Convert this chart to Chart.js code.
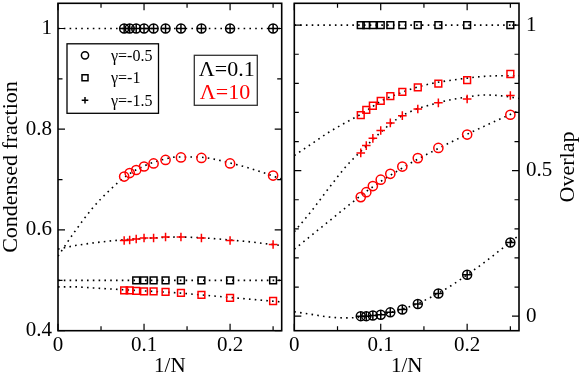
<!DOCTYPE html>
<html><head><meta charset="utf-8">
<script src="https://cdn.jsdelivr.net/npm/chart.js@4.4.1/dist/chart.umd.min.js"></script>
<style>
html,body{margin:0;padding:0;background:#fff;width:581px;height:377px;overflow:hidden;position:relative}
#wl{position:absolute;left:0;top:-3px;width:288px;height:380px}
#wr{position:absolute;left:288px;top:-3px;width:293px;height:380px}
</style></head><body>
<div id="wl"><canvas id="cl"></canvas></div>
<div id="wr"><canvas id="cr"></canvas></div>
<script>
// ---------- data (x = 1/N for N = 13 ... 4) ----------
const invN = [0.0769, 0.0833, 0.0909, 0.1, 0.1111, 0.125, 0.1429, 0.1667, 0.2, 0.25];
const invN8 = [0.0909, 0.1, 0.1111, 0.125, 0.1429, 0.1667, 0.2, 0.25];

// Left panel: condensed fraction
const cfLam01g05 = [1, 1, 1, 1, 1, 1, 1, 1, 1, 1];
const cfLam01g15 = [1, 1, 1, 1, 1, 1, 1, 1, 1, 1];
const cfLam01g1  = [0.5, 0.5, 0.5, 0.5, 0.5, 0.5, 0.5, 0.5];
const cfLam10g05 = [0.706, 0.713, 0.719, 0.726, 0.732, 0.739, 0.744, 0.743, 0.732, 0.708];
const cfLam10g1  = [0.480, 0.480, 0.479, 0.478, 0.478, 0.477, 0.475, 0.471, 0.465, 0.459];
const cfLam10g15 = [0.579, 0.580, 0.582, 0.584, 0.584, 0.586, 0.586, 0.584, 0.579, 0.571];

// Right panel: overlap
const ovLam01g1  = [1, 1, 1, 1, 1, 1, 1, 1, 1, 1];
const ovLam01g05 = [0, 0, 0.002, 0.005, 0.013, 0.023, 0.042, 0.078, 0.142, 0.253];
const ovLam01g15 = [0, 0, 0.002, 0.005, 0.013, 0.023, 0.042, 0.078, 0.142, 0.253];
const ovLam10g05 = [0.409, 0.426, 0.447, 0.469, 0.489, 0.514, 0.543, 0.578, 0.624, 0.692];
const ovLam10g1  = [0.691, 0.709, 0.723, 0.740, 0.756, 0.771, 0.786, 0.799, 0.811, 0.832];
const ovLam10g15 = [0.561, 0.586, 0.611, 0.638, 0.664, 0.689, 0.712, 0.733, 0.746, 0.758];

// Fit curves
const fitEnds = [0, 0.26];
const fitGrid = [0, 0.02, 0.04, 0.06, 0.08, 0.1, 0.12, 0.14, 0.16, 0.18, 0.2, 0.22, 0.24, 0.26];
const fitCfOne  = [1, 1];
const fitCfHalf = [0.5, 0.5];
const fitCfLam10g05 = [0.548, 0.598, 0.643, 0.679, 0.708, 0.727, 0.739, 0.745, 0.745, 0.741, 0.733, 0.724, 0.713, 0.701];
const fitCfLam10g15 = [0.562, 0.569, 0.574, 0.578, 0.581, 0.583, 0.585, 0.586, 0.585, 0.583, 0.580, 0.577, 0.573, 0.569];
const fitCfLam10g1  = [0.487, 0.487, 0.485, 0.483, 0.481, 0.479, 0.477, 0.475, 0.472, 0.469, 0.466, 0.463, 0.460, 0.457];
const fitOvOne      = [1, 1];
const fitOvLam10g1  = [0.552, 0.592, 0.632, 0.666, 0.699, 0.738, 0.764, 0.785, 0.800, 0.810, 0.818, 0.824, 0.826, 0.826];
const fitOvLam10g15 = [0.290, 0.362, 0.440, 0.515, 0.575, 0.632, 0.680, 0.710, 0.728, 0.743, 0.753, 0.760, 0.757, 0.748];
const fitOvLam10g05 = [0.230, 0.278, 0.326, 0.374, 0.421, 0.463, 0.500, 0.535, 0.566, 0.596, 0.625, 0.653, 0.680, 0.706];
const fitOvLam01    = [0.015, 0.006, -0.003, -0.006, -0.003, 0.006, 0.020, 0.040, 0.068, 0.102, 0.142, 0.185, 0.231, 0.278];

// Tick values
const xTickLabels = [0, 0.1, 0.2];
const xMinorTicks = [0.05, 0.15, 0.25];
const cfTickLabels = [0.4, 0.6, 0.8, 1];
const cfMinorTicks = [0.5, 0.7, 0.9];
const ovTickLabels = [0, 0.5, 1];
const ovMinorTicks = [0.1, 0.2, 0.3, 0.4, 0.6, 0.7, 0.8, 0.9];

// ---------- helpers ----------
const RED = '#ff0000', BLK = '#000000';
const FONT = '"Liberation Serif", "Times New Roman", serif';
Chart.defaults.font.family = FONT;
Chart.defaults.color = '#000';

const pts = (xs, ys) => xs.map((x, i) => ({x: x, y: ys[i]}));
function markers(label, xs, ys, style, color, r) {
  return {label, data: pts(xs, ys), showLine: false, pointStyle: style, pointRadius: r, pointHoverRadius: r,
    pointBorderColor: color, pointBackgroundColor: 'rgba(0,0,0,0)', pointBorderWidth: 1.5, borderColor: color, order: 0};
}
function fit(label, xs, ys) {
  return {label, data: pts(xs, ys), showLine: true, pointRadius: 0, borderColor: BLK, borderWidth: 1.6,
    borderDash: [1.6, 4.2], cubicInterpolationMode: 'monotone', fill: false, order: 1};
}

function framePlugin(yMaj, yMin, extra) {
  return {
    id: 'frame',
    afterDatasetsDraw(chart) {
      const {ctx, chartArea: a, scales: {x, y}} = chart;
      ctx.save();
      ctx.strokeStyle = BLK;
      ctx.lineWidth = 1.2;
      ctx.beginPath();
      const xt = (v, len) => { const p = x.getPixelForValue(v);
        ctx.moveTo(p, a.bottom); ctx.lineTo(p, a.bottom - len);
        ctx.moveTo(p, a.top); ctx.lineTo(p, a.top + len); };
      const yt = (v, len) => { const p = y.getPixelForValue(v);
        ctx.moveTo(a.left, p); ctx.lineTo(a.left + len, p);
        ctx.moveTo(a.right, p); ctx.lineTo(a.right - len, p); };
      xTickLabels.forEach(v => xt(v, 7));
      xMinorTicks.forEach(v => xt(v, 4.5));
      yMaj.forEach(v => yt(v, 7));
      yMin.forEach(v => yt(v, 4.5));
      ctx.stroke();
      ctx.lineWidth = 1.6;
      ctx.strokeRect(a.left, a.top, a.right - a.left, a.bottom - a.top);
      ctx.restore();
      if (extra) extra(chart);
    }
  };
}

function drawSym(ctx, style, cx, cy, r) {
  ctx.beginPath();
  if (style === 'circle') ctx.arc(cx, cy, r, 0, Math.PI * 2);
  else if (style === 'rect') ctx.rect(cx - r, cy - r, 2 * r, 2 * r);
  else { ctx.moveTo(cx - r, cy); ctx.lineTo(cx + r, cy); ctx.moveTo(cx, cy - r); ctx.lineTo(cx, cy + r); }
  ctx.stroke();
}

const legendItems = [
  {style: 'circle', text: 'γ=-0.5', r: 3.6},
  {style: 'rect', text: 'γ=-1', r: 3},
  {style: 'cross', text: 'γ=-1.5', r: 3.3}
];

function leftExtra(chart) {
  const ctx = chart.ctx, a = chart.chartArea;
  ctx.save();
  // legend box
  const bx = a.left + 9, by = a.top + 40.5, bw = 91.5, bh = 69.5;
  ctx.lineWidth = 1.3; ctx.strokeStyle = BLK;
  ctx.strokeRect(bx, by, bw, bh);
  ctx.font = '16px ' + FONT;
  ctx.textBaseline = 'middle'; ctx.textAlign = 'left'; ctx.fillStyle = BLK;
  legendItems.forEach((it, i) => {
    const yy = by + 11.5 + i * 22.5;
    ctx.lineWidth = 1.5;
    drawSym(ctx, it.style, bx + 18, yy, it.r);
    ctx.fillText(it.text, bx + 44, yy + 1);
  });
  // Lambda box
  const lx = a.left + 136.3, ly = a.top + 52, lw = 63, lh = 50;
  ctx.lineWidth = 1.3; ctx.strokeStyle = '#333';
  ctx.strokeRect(lx, ly, lw, lh);
  ctx.font = '22px ' + FONT;
  ctx.fillStyle = BLK; ctx.fillText('Λ=0.1', lx + 4.5, ly + 14.5);
  ctx.fillStyle = RED; ctx.fillText('Λ=10', lx + 5.5, ly + 37.5);
  ctx.restore();
}

function rightExtra(chart) {
  const ctx = chart.ctx, a = chart.chartArea;
  ctx.save();
  ctx.font = '22px ' + FONT;
  ctx.fillStyle = BLK; ctx.textAlign = 'center'; ctx.textBaseline = 'middle';
  ctx.translate(a.right + 49, (a.top + a.bottom) / 2);
  ctx.rotate(-Math.PI / 2);
  ctx.fillText('Overlap', 0, 0);
  ctx.restore();
}

function xScale() {
  return {
    type: 'linear', min: 0, max: 0.26,
    grid: {display: false, drawTicks: false}, border: {display: false},
    ticks: {font: {size: 21}, padding: 2, autoSkip: false, maxRotation: 0, callback: v => String(v)},
    afterBuildTicks: s => { s.ticks = xTickLabels.map(v => ({value: v})); },
    afterFit: s => { s.height = 46.3; s.paddingLeft = 0; s.paddingRight = 0; },
    title: {display: true, text: '1/N', font: {size: 21, lineHeight: 1}, padding: {top: 0, bottom: 0}}
  };
}

const common = {
  responsive: true, maintainAspectRatio: false, animation: false, devicePixelRatio: 1,
  plugins: {legend: {display: false}, tooltip: {enabled: false}},
  events: []
};

// ---------- left chart ----------
new Chart(document.getElementById('cl'), {
  type: 'scatter',
  data: {datasets: [
    markers('Λ=0.1 γ=-0.5', invN, cfLam01g05, 'circle', BLK, 4.5),
    markers('Λ=0.1 γ=-1.5', invN, cfLam01g15, 'cross', BLK, 4.5),
    markers('Λ=0.1 γ=-1', invN8, cfLam01g1, 'rect', BLK, 4.8),
    markers('Λ=10 γ=-0.5', invN, cfLam10g05, 'circle', RED, 4.6),
    markers('Λ=10 γ=-1', invN, cfLam10g1, 'rect', RED, 4.8),
    markers('Λ=10 γ=-1.5', invN, cfLam10g15, 'cross', RED, 4.3),
    fit('fit 1', fitEnds, fitCfOne),
    fit('fit 0.5', fitEnds, fitCfHalf),
    fit('fit Λ=10 γ=-0.5', fitGrid, fitCfLam10g05),
    fit('fit Λ=10 γ=-1.5', fitGrid, fitCfLam10g15),
    fit('fit Λ=10 γ=-1', fitGrid, fitCfLam10g1)
  ]},
  options: Object.assign({}, common, {
    layout: {padding: {left: 0, right: 4.7, top: 2, bottom: 0}},
    scales: {
      x: xScale(),
      y: {
        type: 'linear', min: 0.4, max: 1.05,
        grid: {display: false, drawTicks: false}, border: {display: false},
        ticks: {font: {size: 21}, padding: 6, autoSkip: false, callback: v => String(v)},
        afterBuildTicks: s => { s.ticks = cfTickLabels.map(v => ({value: v})); },
        afterFit: s => { s.width = 58; s.paddingTop = 0; s.paddingBottom = 0; },
        title: {display: true, text: 'Condensed fraction', font: {size: 22, lineHeight: 1}, padding: {top: 0, bottom: 0}}
      }
    }
  }),
  plugins: [framePlugin(cfTickLabels, cfMinorTicks, leftExtra)]
});

// ---------- right chart ----------
new Chart(document.getElementById('cr'), {
  type: 'scatter',
  data: {datasets: [
    markers('Λ=0.1 γ=-1', invN, ovLam01g1, 'rect', BLK, 4.8),
    markers('Λ=0.1 γ=-0.5', invN, ovLam01g05, 'circle', BLK, 4.5),
    markers('Λ=0.1 γ=-1.5', invN, ovLam01g15, 'cross', BLK, 4.5),
    markers('Λ=10 γ=-0.5', invN, ovLam10g05, 'circle', RED, 4.6),
    markers('Λ=10 γ=-1', invN, ovLam10g1, 'rect', RED, 4.8),
    markers('Λ=10 γ=-1.5', invN, ovLam10g15, 'cross', RED, 4.3),
    fit('fit 1', fitEnds, fitOvOne),
    fit('fit Λ=10 γ=-1', fitGrid, fitOvLam10g1),
    fit('fit Λ=10 γ=-1.5', fitGrid, fitOvLam10g15),
    fit('fit Λ=10 γ=-0.5', fitGrid, fitOvLam10g05),
    fit('fit Λ=0.1', fitGrid, fitOvLam01)
  ]},
  options: Object.assign({}, common, {
    layout: {padding: {left: 5, right: 0, top: 2, bottom: 0}},
    scales: {
      x: xScale(),
      y: {
        type: 'linear', position: 'right', min: -0.05, max: 1.075,
        grid: {display: false, drawTicks: false}, border: {display: false},
        ticks: {font: {size: 21}, padding: 7, autoSkip: false, callback: v => String(v)},
        afterBuildTicks: s => { s.ticks = ovTickLabels.map(v => ({value: v})); },
        afterFit: s => { s.width = 62; s.paddingTop = 0; s.paddingBottom = 0; },
        title: {display: false}
      }
    }
  }),
  plugins: [framePlugin(ovTickLabels, ovMinorTicks, rightExtra)]
});
</script>
</body></html>
